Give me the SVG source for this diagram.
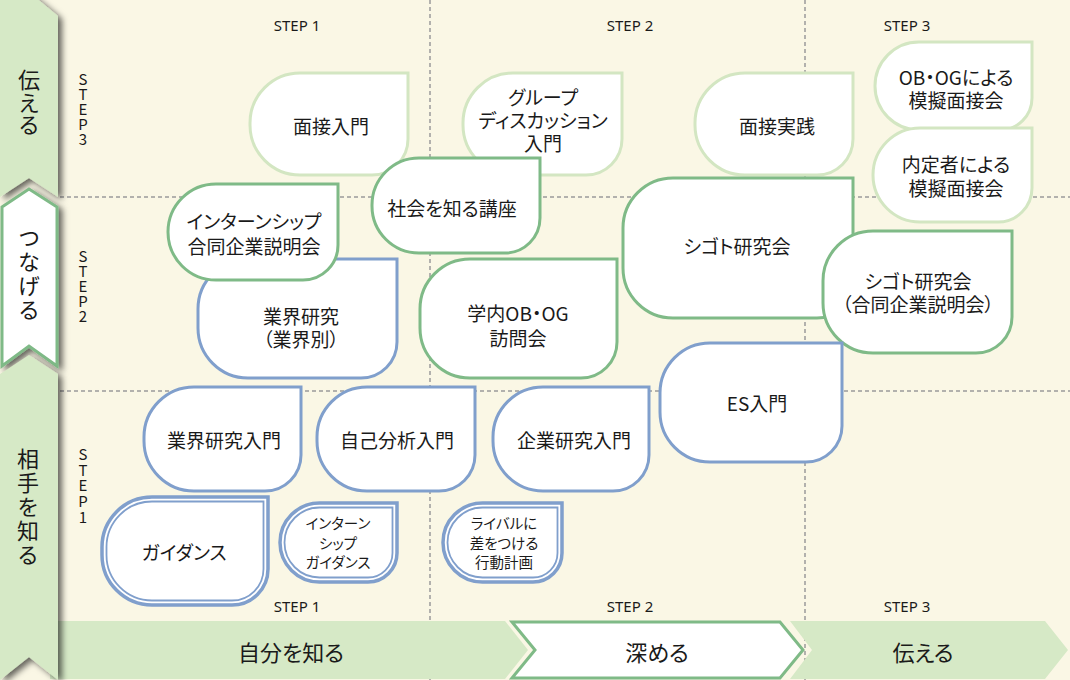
<svg xmlns="http://www.w3.org/2000/svg" width="1070" height="680" viewBox="0 0 1070 680">
<defs>
<filter id="sh" x="-30%" y="-10%" width="170%" height="130%">
<feDropShadow dx="4" dy="3" stdDeviation="3" flood-color="#000" flood-opacity="0.6"/>
</filter>
</defs>
<style>
.bg{fill:#FAF7E5}
.grid line{stroke:#9a9a9a;stroke-width:1.5;stroke-dasharray:4 3}
.band{fill:#D6E9C6}
.hl{fill:#fff;stroke:#7FBA87;stroke-width:3}
.n path{fill:#fff;stroke-width:3}
.lg path{stroke:#D3E6C2}
.g path{stroke:#7FBA87}
.b path{stroke:#809FCC}
.dbl path.o{stroke-width:3.5}
.dbl path.i{fill:none;stroke-width:1.8}
text{font-family:"Noto Sans CJK JP","Noto Sans",sans-serif;fill:#1a1a1a;font-feature-settings:"palt"}
.t{font-size:19px;text-anchor:middle;dominant-baseline:central}
.s{font-size:14.5px}
.step{font-family:"Noto Sans","Liberation Sans",sans-serif;font-size:15px;text-anchor:middle}
.vs{font-family:"Noto Sans CJK JP",sans-serif;font-size:15px;writing-mode:vertical-rl;text-orientation:upright;font-feature-settings:normal}
.vt{font-size:22px;writing-mode:vertical-rl;text-orientation:upright;font-feature-settings:normal}
.big{font-size:22px;text-anchor:middle;dominant-baseline:central}
</style>
<rect class="bg" x="0" y="0" width="1070" height="680"/>
<g id="grid" class="grid">
<line x1="60" y1="197" x2="1070" y2="197"/>
<line x1="60" y1="391" x2="1070" y2="391"/>
<line x1="430" y1="0" x2="430" y2="680"/>
<line x1="805" y1="0" x2="805" y2="680"/>
</g>
<g id="step-labels">
<text class="step" x="297" y="31">STEP 1</text>
<text class="step" x="630" y="31">STEP 2</text>
<text class="step" x="907" y="31">STEP 3</text>
<text class="step" x="297" y="612">STEP 1</text>
<text class="step" x="630" y="612">STEP 2</text>
<text class="step" x="907" y="612">STEP 3</text>
<text class="vs" x="83" y="72">STEP3</text>
<text class="vs" x="83" y="249">STEP2</text>
<text class="vs" x="83" y="447" letter-spacing="0.6">STEP1</text>
</g>
<g id="bottom-band">
<polygon class="band" points="50,621 505,621 528,650 505,679 50,679"/>
<polygon class="hl" points="512,622 780,622 803,650 780,678 512,678 535,650"/>
<polygon class="band" points="790,621 1045,621 1068,650 1045,679 790,679 812,650"/>
<text class="big" x="291" y="651">自分を知る</text>
<text class="big" x="657" y="651">深める</text>
<text class="big" x="923" y="651">伝える</text>
</g>
<g id="connectors"></g>
<g id="n-mensetsu-nyumon" class="n lg">
<path d="M300,73 H408 V139 A36,36 0 0 1 372,175 H300 A50,50 0 0 1 250,125 V123 A50,50 0 0 1 300,73 Z"/>
<text class="t" x="331" y="125">面接入門</text>
</g>
<g id="n-group-discussion" class="n lg">
<path d="M513,73 H622 V139 A36,36 0 0 1 586,175 H513 A50,50 0 0 1 463,125 V123 A50,50 0 0 1 513,73 Z"/>
<text class="t"><tspan x="543" y="96">グループ</tspan><tspan x="543" y="119">ディスカッション</tspan><tspan x="543" y="142">入門</tspan></text>
</g>
<g id="n-mensetsu-jissen" class="n lg">
<path d="M745,73 H853 V139 A36,36 0 0 1 817,175 H745 A50,50 0 0 1 695,125 V123 A50,50 0 0 1 745,73 Z"/>
<text class="t" x="777" y="125">面接実践</text>
</g>
<g id="n-obog-mogi" class="n lg">
<path d="M919,42 H1032 V98 A32,32 0 0 1 1000,130 H919 A44,44 0 0 1 875,86 A44,44 0 0 1 919,42 Z"/>
<text class="t"><tspan x="956" y="76">OB・OGによる</tspan><tspan x="956" y="99">模擬面接会</tspan></text>
</g>
<g id="n-naiteisha-mogi" class="n lg">
<path d="M920,128 H1032 V188 A34,34 0 0 1 998,222 H920 A47,47 0 0 1 873,175 A47,47 0 0 1 920,128 Z"/>
<text class="t"><tspan x="956" y="163">内定者による</tspan><tspan x="956" y="187">模擬面接会</tspan></text>
</g>
<g id="n-shakai" class="n g">
<path d="M419,158 H540 V218 A35,35 0 0 1 505,253 H419 A47,47 0 0 1 372,206 V205 A47,47 0 0 1 419,158 Z"/>
<text class="t" x="452" y="207">社会を知る講座</text>
</g>
<g id="n-gyokai-kenkyu" class="n b">
<path d="M248,259 H397 V342 A36,36 0 0 1 361,378 H248 A50,50 0 0 1 198,328 V309 A50,50 0 0 1 248,259 Z"/>
<text class="t"><tspan x="301" y="315">業界研究</tspan><tspan x="301" y="338">（業界別）</tspan></text>
</g>
<g id="n-internship-godo" class="n g">
<path d="M216,184 H338 V245 A35,35 0 0 1 303,280 H216 A48,48 0 0 1 168,232 A48,48 0 0 1 216,184 Z"/>
<text class="t"><tspan x="254" y="220">インターンシップ</tspan><tspan x="254" y="245">合同企業説明会</tspan></text>
</g>
<g id="n-gakunai-obog" class="n g">
<path d="M470,259 H617 V342 A36,36 0 0 1 581,378 H470 A50,50 0 0 1 420,328 V309 A50,50 0 0 1 470,259 Z"/>
<text class="t"><tspan x="518" y="312">学内OB・OG</tspan><tspan x="518" y="337">訪問会</tspan></text>
</g>
<g id="n-shigoto" class="n g">
<path d="M673,178 H853 V282 A36,36 0 0 1 817,318 H673 A50,50 0 0 1 623,268 V228 A50,50 0 0 1 673,178 Z"/>
<text class="t" x="737" y="245">シゴト研究会</text>
</g>
<g id="n-shigoto-godo" class="n g">
<path d="M873,231 H1012 V317 A36,36 0 0 1 976,353 H873 A50,50 0 0 1 823,303 V281 A50,50 0 0 1 873,231 Z"/>
<text class="t"><tspan x="918" y="280">シゴト研究会</tspan><tspan x="918" y="303">（合同企業説明会）</tspan></text>
</g>
<g id="n-es" class="n b">
<path d="M710,343 H842 V426 A36,36 0 0 1 806,462 H710 A50,50 0 0 1 660,412 V393 A50,50 0 0 1 710,343 Z"/>
<text class="t" x="757" y="402">ES入門</text>
</g>
<g id="n-gyokai-nyumon" class="n b">
<path d="M194,387 H301 V455 A36,36 0 0 1 265,491 H194 A50,50 0 0 1 144,441 V437 A50,50 0 0 1 194,387 Z"/>
<text class="t" x="224" y="439">業界研究入門</text>
</g>
<g id="n-jiko" class="n b">
<path d="M367,387 H475 V455 A36,36 0 0 1 439,491 H367 A50,50 0 0 1 317,441 V437 A50,50 0 0 1 367,387 Z"/>
<text class="t" x="397" y="439">自己分析入門</text>
</g>
<g id="n-kigyo" class="n b">
<path d="M543,387 H649 V455 A36,36 0 0 1 613,491 H543 A50,50 0 0 1 493,441 V437 A50,50 0 0 1 543,387 Z"/>
<text class="t" x="574" y="439">企業研究入門</text>
</g>
<g id="n-guidance" class="n b dbl">
<path class="o" d="M152,497 H268 V569 A36,36 0 0 1 232,605 H152 A50,50 0 0 1 102,555 V547 A50,50 0 0 1 152,497 Z"/>
<path class="i" d="M152,501.5 H263.5 V569 A31.5,31.5 0 0 1 232,600.5 H152 A45.5,45.5 0 0 1 106.5,555 V547 A45.5,45.5 0 0 1 152,501.5 Z"/>
<text class="t" x="184" y="551">ガイダンス</text>
</g>
<g id="n-internship-guidance" class="n b dbl">
<path class="o" d="M319.5,503 H397 V553 A29,29 0 0 1 368,582 H319.5 A39.5,39.5 0 0 1 280,542.5 A39.5,39.5 0 0 1 319.5,503 Z"/>
<path class="i" d="M319.5,507.5 H392.5 V553 A24.5,24.5 0 0 1 368,577.5 H319.5 A35,35 0 0 1 284.5,542.5 A35,35 0 0 1 319.5,507.5 Z"/>
<text class="t s"><tspan x="338" y="522">インターン</tspan><tspan x="338" y="541.5">シップ</tspan><tspan x="338" y="561">ガイダンス</tspan></text>
</g>
<g id="n-rival" class="n b dbl">
<path class="o" d="M482.5,503 H562 V553 A29,29 0 0 1 533,582 H482.5 A39.5,39.5 0 0 1 443,542.5 A39.5,39.5 0 0 1 482.5,503 Z"/>
<path class="i" d="M482.5,507.5 H557.5 V553 A24.5,24.5 0 0 1 533,577.5 H482.5 A35,35 0 0 1 447.5,542.5 A35,35 0 0 1 482.5,507.5 Z"/>
<text class="t s"><tspan x="504" y="522">ライバルに</tspan><tspan x="504" y="541.5">差をつける</tspan><tspan x="504" y="561">行動計画</tspan></text>
</g>
<g id="left-column">
<polygon class="band" filter="url(#sh)" points="0,-6 29,-8 58,16 58,197 29,178 0,197"/>
<polygon class="hl" filter="url(#sh)" points="2,207 29,189 57,207 57,366 29,346 2,366"/>
<polygon class="band" filter="url(#sh)" points="0,374 29,355 58,374 58,680 29,657 0,680"/>
<text class="vt" x="29" y="69" letter-spacing="0.5">伝える</text>
<text class="vt" x="29" y="227" letter-spacing="2">つなげる</text>
<text class="vt" x="28" y="448" letter-spacing="1.8">相手を知る</text>
</g>
</svg>
